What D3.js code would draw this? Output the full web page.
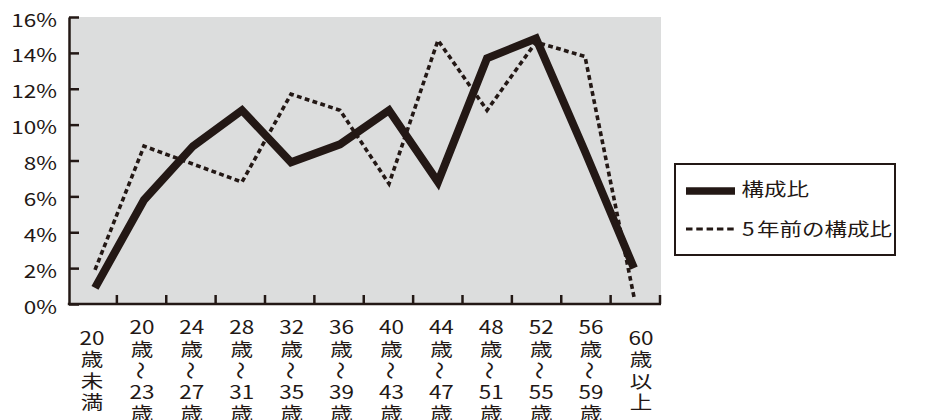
<!DOCTYPE html>
<html>
<head>
<meta charset="utf-8">
<script src="https://cdn.jsdelivr.net/npm/d3@7"></script>
<style>
  html, body { margin: 0; padding: 0; background: #ffffff; }
  svg { display: block; }
  text { font-family: "Noto Sans CJK JP", "Noto Sans", sans-serif; font-weight: 400; fill: #231815; }
</style>
</head>
<body>
<svg id="chart" width="926" height="420"></svg>
<script>
// Age groups (x categories)
const categories = ["20歳未満", "20〜23歳", "24〜27歳", "28〜31歳", "32〜35歳", "36〜39歳",
                    "40〜43歳", "44〜47歳", "48〜51歳", "52〜55歳", "56〜59歳", "60歳以上"];

// Stacked (vertical) tick labels for each age group
const tickLabels = [
  ["20", "歳", "未", "満"],
  ["20", "歳", "〜", "23", "歳"],
  ["24", "歳", "〜", "27", "歳"],
  ["28", "歳", "〜", "31", "歳"],
  ["32", "歳", "〜", "35", "歳"],
  ["36", "歳", "〜", "39", "歳"],
  ["40", "歳", "〜", "43", "歳"],
  ["44", "歳", "〜", "47", "歳"],
  ["48", "歳", "〜", "51", "歳"],
  ["52", "歳", "〜", "55", "歳"],
  ["56", "歳", "〜", "59", "歳"],
  ["60", "歳", "以", "上"]
];

// Composition ratio (%), current and five years earlier
const current  = [0.9, 5.8, 8.8, 10.8, 7.9, 8.9, 10.8, 6.8, 13.7, 14.8, 8.5, 2.0];
const previous = [1.9, 8.8, 7.8, 6.8, 11.7, 10.8, 6.7, 14.7, 10.8, 14.6, 13.8, 0.4];

// Y axis ticks
const yTicks = [0, 2, 4, 6, 8, 10, 12, 14, 16];

// Legend entries
const seriesNames = ["構成比", "5 年前の構成比"];

const ink = "#231815";
const TX = 1.25;   // horizontal text stretch
const FS = 18;

const svg = d3.select("#chart");

const plot = { left: 69, right: 661, top: 17, bottom: 304 };

const y = d3.scaleLinear().domain([0, 16]).range([plot.bottom, plot.top]);
const band = d3.scaleBand().domain(categories).range([67.5, 660]);
const xPt = d3.scalePoint().domain(categories).range([95, 634]);
const xLab = d3.scalePoint().domain(categories).range([92, 641]);

// plot background
svg.append("rect")
  .attr("x", plot.left).attr("y", plot.top)
  .attr("width", plot.right - plot.left).attr("height", plot.bottom - plot.top)
  .attr("fill", "#dcdddd");

// y axis (ticks pointing inward)
const yAxis = svg.append("g")
  .attr("transform", `translate(${plot.left},0)`)
  .call(d3.axisLeft(y).tickValues(yTicks).tickSize(-10).tickSizeOuter(0).tickFormat(""));
yAxis.select(".domain").attr("stroke", ink).attr("stroke-width", 2.5);
yAxis.selectAll(".tick line").attr("stroke", ink).attr("stroke-width", 2.5);

svg.append("g").selectAll("text")
  .data(yTicks)
  .join("text")
  .attr("transform", d => `translate(57,${y(d) + 9.6}) scale(${TX},1)`)
  .attr("text-anchor", "end")
  .attr("font-size", FS)
  .text(d => d3.format(".0%")(d / 100));

// x axis baseline and band boundary ticks
svg.append("line")
  .attr("x1", plot.left - 1.2).attr("x2", plot.right)
  .attr("y1", plot.bottom).attr("y2", plot.bottom)
  .attr("stroke", ink).attr("stroke-width", 2.5);

const bounds = categories.slice(1).map(c => band(c)).concat([band.range()[1]]);
svg.append("g").selectAll("line")
  .data(bounds)
  .join("line")
  .attr("x1", d => d).attr("x2", d => d)
  .attr("y1", plot.bottom).attr("y2", plot.bottom - 9)
  .attr("stroke", ink).attr("stroke-width", 2.5);

// x tick labels, stacked vertically; the wave dash is turned upright
const rowGap = 21.5, midY = 370.5;
const labG = svg.append("g");
categories.forEach((c, i) => {
  const rows = tickLabels[i];
  const top = midY - (rows.length - 1) * rowGap / 2;
  const wave = rows.indexOf("〜");
  // split into blocks around the wave dash
  const blocks = wave < 0 ? [[0, rows.length]] : [[0, wave], [wave + 1, rows.length]];
  blocks.forEach(([a, b]) => {
    const t = labG.append("text")
      .attr("transform", `translate(${xLab(c)},0) scale(${TX},1)`)
      .attr("text-anchor", "middle")
      .attr("font-size", FS);
    for (let k = a; k < b; k++) {
      t.append("tspan").attr("x", 0).attr("y", top + k * rowGap + 6.7).text(rows[k]);
    }
  });
  if (wave >= 0) {
    labG.append("text")
      .attr("transform", `translate(${xLab(c)},${top + wave * rowGap}) scale(${TX},1) rotate(90)`)
      .attr("text-anchor", "middle")
      .attr("dominant-baseline", "central")
      .attr("font-size", FS)
      .text(rows[wave]);
  }
});

// series lines
const line = d3.line()
  .x((d, i) => xPt(categories[i]))
  .y(d => y(d));

svg.append("path")
  .datum(current)
  .attr("d", line)
  .attr("fill", "none")
  .attr("stroke", ink)
  .attr("stroke-width", 8)
  .attr("stroke-linejoin", "miter")
  .attr("stroke-miterlimit", 10);

svg.append("path")
  .datum(previous)
  .attr("d", line)
  .attr("fill", "none")
  .attr("stroke", ink)
  .attr("stroke-width", 3.6)
  .attr("stroke-dasharray", "4.8 3.4")
  .attr("stroke-linejoin", "miter");

// legend
const lg = svg.append("g");
lg.append("rect")
  .attr("x", 675).attr("y", 164).attr("width", 220).attr("height", 91)
  .attr("fill", "#ffffff").attr("stroke", ink).attr("stroke-width", 2);
lg.append("line")
  .attr("x1", 686).attr("x2", 735).attr("y1", 191).attr("y2", 191)
  .attr("stroke", ink).attr("stroke-width", 7.7);
lg.append("line")
  .attr("x1", 686).attr("x2", 737).attr("y1", 229).attr("y2", 229)
  .attr("stroke", ink).attr("stroke-width", 2.8).attr("stroke-dasharray", "6.5 3.8");

lg.selectAll("text.lab")
  .data(seriesNames)
  .join("text")
  .attr("class", "lab")
  .attr("transform", (d, i) => `translate(${i === 0 ? 741.5 : 742},${i === 0 ? 196 : 236}) scale(${TX},1)`)
  .attr("font-size", FS)
  .style("word-spacing", "-2px")
  .text(d => d);
</script>
</body>
</html>
